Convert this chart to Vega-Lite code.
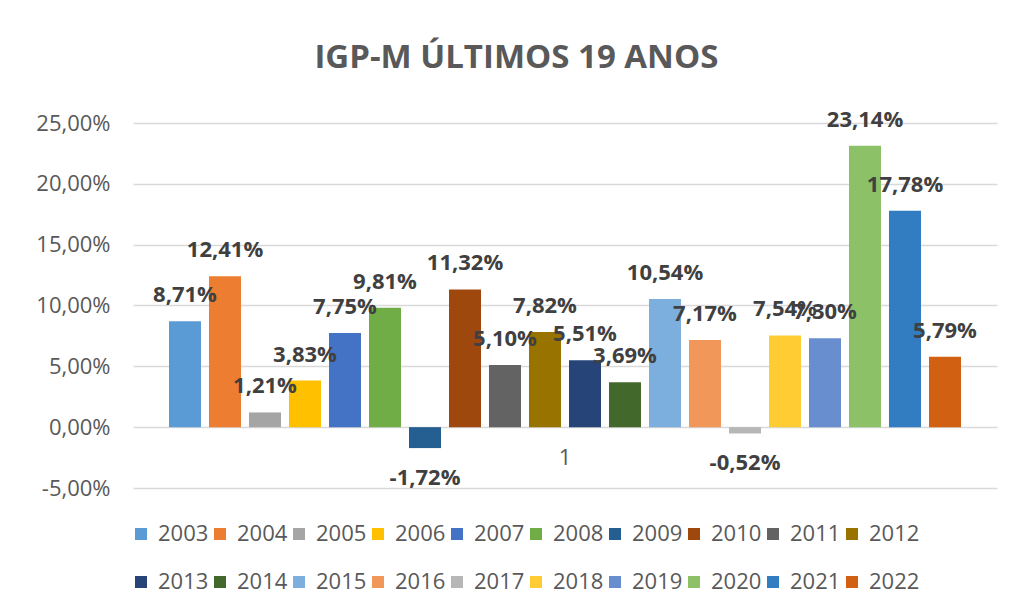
{
  "$schema": "https://vega.github.io/schema/vega-lite/v6.json",
  "autosize": {"type": "none"},
  "width": 864,
  "height": 365,
  "padding": {"left": 133, "top": 123, "right": 13, "bottom": 120},
  "background": "white",
  "config": {
    "locale": {"number": {"decimal": ",", "thousands": ".", "grouping": [3], "currency": ["R$", ""], "minus": "-"}},
    "view": {"stroke": null},
    "font": "Open Sans"
  },
  "title": {
    "text": "IGP-M ÚLTIMOS 19 ANOS",
    "font": "Open Sans",
    "fontSize": 33,
    "fontWeight": "bold",
    "color": "#595959",
    "anchor": "middle",
    "frame": "bounds",
    "baseline": "alphabetic",
    "offset": 8
  },
  "data": {
    "values": [
      {"cat": "1", "year": "2003", "v": 0.0871},
      {"cat": "1", "year": "2004", "v": 0.1241},
      {"cat": "1", "year": "2005", "v": 0.0121},
      {"cat": "1", "year": "2006", "v": 0.0383},
      {"cat": "1", "year": "2007", "v": 0.0775},
      {"cat": "1", "year": "2008", "v": 0.0981},
      {"cat": "1", "year": "2009", "v": -0.0172},
      {"cat": "1", "year": "2010", "v": 0.1132},
      {"cat": "1", "year": "2011", "v": 0.0510},
      {"cat": "1", "year": "2012", "v": 0.0782},
      {"cat": "1", "year": "2013", "v": 0.0551},
      {"cat": "1", "year": "2014", "v": 0.0369},
      {"cat": "1", "year": "2015", "v": 0.1054},
      {"cat": "1", "year": "2016", "v": 0.0717},
      {"cat": "1", "year": "2017", "v": -0.0052},
      {"cat": "1", "year": "2018", "v": 0.0754},
      {"cat": "1", "year": "2019", "v": 0.0730},
      {"cat": "1", "year": "2020", "v": 0.2314},
      {"cat": "1", "year": "2021", "v": 0.1778},
      {"cat": "1", "year": "2022", "v": 0.0579}
    ]
  },
  "encoding": {
    "x": {
      "field": "cat",
      "type": "nominal",
      "scale": {"paddingInner": 0, "paddingOuter": 0.04},
      "axis": {
        "title": null,
        "orient": "bottom",
        "offset": -61,
        "domain": false,
        "ticks": false,
        "labelAngle": 0,
        "labelPadding": 20,
        "labelFont": "Open Sans",
        "labelFontSize": 22,
        "labelColor": "#595959"
      }
    },
    "xOffset": {
      "field": "year",
      "type": "nominal",
      "scale": {"paddingInner": 0.2, "paddingOuter": 0.1}
    },
    "y": {
      "field": "v",
      "type": "quantitative",
      "scale": {"domain": [-0.05, 0.25], "nice": false},
      "axis": {
        "title": null,
        "values": [-0.05, 0, 0.05, 0.1, 0.15, 0.2, 0.25],
        "format": ".2%",
        "domain": false,
        "ticks": false,
        "grid": true,
        "gridColor": "#d9d9d9",
        "gridWidth": 1.5,
        "labelPadding": 23,
        "labelFont": "Open Sans",
        "labelFontSize": 22,
        "labelColor": "#595959"
      }
    }
  },
  "layer": [
    {
      "mark": {"type": "bar"},
      "encoding": {
        "color": {
          "field": "year",
          "type": "nominal",
          "scale": {
            "domain": ["2003","2004","2005","2006","2007","2008","2009","2010","2011","2012","2013","2014","2015","2016","2017","2018","2019","2020","2021","2022"],
            "range": ["#5B9BD5","#ED7D31","#A5A5A5","#FFC000","#4472C4","#70AD47","#255E91","#9E480E","#636363","#997300","#264478","#43682B","#7CAFDD","#F1975A","#B7B7B7","#FFCD33","#698ED0","#8CC168","#327DC2","#D26012"]
          },
          "legend": {
            "title": null,
            "orient": "none",
            "legendX": -3,
            "legendY": 400,
            "direction": "horizontal",
            "columns": 10,
            "padding": 0,
            "symbolType": "square",
            "symbolSize": 144,
            "symbolStrokeWidth": 0,
            "labelFont": "Open Sans",
            "labelFontSize": 22,
            "labelColor": "#595959",
            "labelOffset": 6,
            "columnPadding": 0,
            "rowPadding": 26
          }
        }
      }
    },
    {
      "transform": [{"filter": "datum.v >= 0"}],
      "mark": {"type": "text", "dy": -26, "baseline": "middle", "font": "Open Sans", "fontSize": 22, "fontWeight": "bold", "color": "#404040"},
      "encoding": {"text": {"field": "v", "type": "quantitative", "format": ".2%"}}
    },
    {
      "transform": [{"filter": "datum.v < 0"}],
      "mark": {"type": "text", "dy": 30, "baseline": "middle", "font": "Open Sans", "fontSize": 22, "fontWeight": "bold", "color": "#404040"},
      "encoding": {"text": {"field": "v", "type": "quantitative", "format": ".2%"}}
    }
  ]
}
